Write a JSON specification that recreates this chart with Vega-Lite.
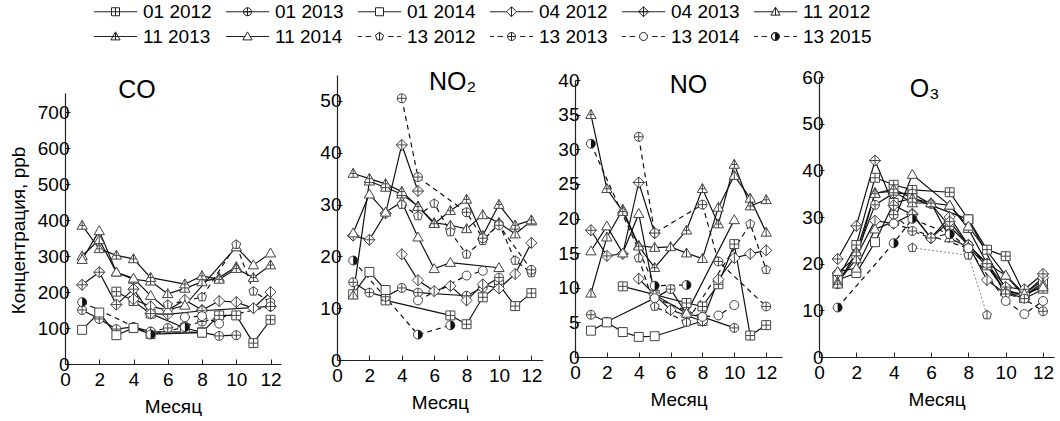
{
  "$schema": "https://vega.github.io/schema/vega-lite/v6.json",
  "padding": {"left": 9, "top": 2, "right": 0, "bottom": 0},
  "bounds": "flush",
  "spacing": 0,
  "datasets": {
    "CO": [
      {"series":"01 2012","month":3,"value":201},{"series":"01 2012","month":4,"value":175},{"series":"01 2012","month":5,"value":140},{"series":"01 2012","month":7,"value":100},{"series":"01 2012","month":8,"value":88},{"series":"01 2012","month":9,"value":135},{"series":"01 2012","month":10,"value":135},{"series":"01 2012","month":11,"value":58},{"series":"01 2012","month":12,"value":123},
      {"series":"01 2013","month":1,"value":150},{"series":"01 2013","month":2,"value":125},{"series":"01 2013","month":3,"value":97},{"series":"01 2013","month":4,"value":103},{"series":"01 2013","month":5,"value":90},{"series":"01 2013","month":8,"value":88},{"series":"01 2013","month":9,"value":78},{"series":"01 2013","month":10,"value":80},
      {"series":"01 2014","month":1,"value":95},{"series":"01 2014","month":2,"value":143},{"series":"01 2014","month":3,"value":80},{"series":"01 2014","month":4,"value":100},{"series":"01 2014","month":5,"value":83},{"series":"01 2014","month":8,"value":87},
      {"series":"04 2012","month":4,"value":180},{"series":"04 2012","month":5,"value":160},{"series":"04 2012","month":6,"value":150},{"series":"04 2012","month":7,"value":178},{"series":"04 2012","month":8,"value":150},{"series":"04 2012","month":9,"value":175},{"series":"04 2012","month":10,"value":172},{"series":"04 2012","month":11,"value":155},{"series":"04 2012","month":12,"value":200},
      {"series":"04 2013","month":1,"value":220},{"series":"04 2013","month":2,"value":255},{"series":"04 2013","month":3,"value":165},{"series":"04 2013","month":4,"value":208},{"series":"04 2013","month":5,"value":140},{"series":"04 2013","month":6,"value":138},{"series":"04 2013","month":8,"value":148},{"series":"04 2013","month":12,"value":160},
      {"series":"11 2012","month":1,"value":300},{"series":"11 2012","month":2,"value":345},{"series":"11 2012","month":3,"value":255},{"series":"11 2012","month":4,"value":235},{"series":"11 2012","month":5,"value":230},{"series":"11 2012","month":6,"value":195},{"series":"11 2012","month":7,"value":210},{"series":"11 2012","month":8,"value":228},{"series":"11 2012","month":9,"value":240},{"series":"11 2012","month":10,"value":270},
      {"series":"11 2013","month":1,"value":385},{"series":"11 2013","month":2,"value":320},{"series":"11 2013","month":3,"value":302},{"series":"11 2013","month":4,"value":292},{"series":"11 2013","month":5,"value":240},{"series":"11 2013","month":7,"value":222},{"series":"11 2013","month":8,"value":245},{"series":"11 2013","month":9,"value":235},{"series":"11 2013","month":10,"value":265},{"series":"11 2013","month":11,"value":240},{"series":"11 2013","month":12,"value":275},
      {"series":"11 2014","month":1,"value":290},{"series":"11 2014","month":2,"value":370},{"series":"11 2014","month":3,"value":255},{"series":"11 2014","month":4,"value":238},{"series":"11 2014","month":5,"value":190},{"series":"11 2014","month":6,"value":150},{"series":"11 2014","month":7,"value":163},{"series":"11 2014","month":10,"value":325},{"series":"11 2014","month":11,"value":275},{"series":"11 2014","month":12,"value":308},
      {"series":"13 2012","month":6,"value":165},{"series":"13 2012","month":8,"value":186},{"series":"13 2012","month":10,"value":332},{"series":"13 2012","month":11,"value":202},{"series":"13 2012","month":12,"value":172},
      {"series":"13 2013","month":5,"value":90},{"series":"13 2013","month":6,"value":100},{"series":"13 2013","month":7,"value":105},{"series":"13 2013","month":8,"value":118},{"series":"13 2013","month":12,"value":160},
      {"series":"13 2014","month":7,"value":130},{"series":"13 2014","month":8,"value":133},{"series":"13 2014","month":9,"value":112},
      {"series":"13 2015","month":1,"value":172},{"series":"13 2015","month":5,"value":82},{"series":"13 2015","month":7,"value":102}
    ],
    "NO2": [
      {"series":"01 2012","month":3,"value":11.5},{"series":"01 2012","month":7,"value":8.6},{"series":"01 2012","month":8,"value":6.9},{"series":"01 2012","month":9,"value":12.1},{"series":"01 2012","month":10,"value":14.6},{"series":"01 2012","month":11,"value":10.4},{"series":"01 2012","month":12,"value":12.9},
      {"series":"01 2013","month":1,"value":15},{"series":"01 2013","month":2,"value":13},{"series":"01 2013","month":3,"value":12.2},{"series":"01 2013","month":4,"value":13.9},{"series":"01 2013","month":5,"value":13},{"series":"01 2013","month":8,"value":12.4},{"series":"01 2013","month":9,"value":14},{"series":"01 2013","month":10,"value":15.9},
      {"series":"01 2014","month":1,"value":12.7},{"series":"01 2014","month":2,"value":17},{"series":"01 2014","month":3,"value":13.5},
      {"series":"04 2012","month":4,"value":20.4},{"series":"04 2012","month":5,"value":15.4},{"series":"04 2012","month":6,"value":13.3},{"series":"04 2012","month":7,"value":14.3},{"series":"04 2012","month":8,"value":11.5},{"series":"04 2012","month":9,"value":14.6},{"series":"04 2012","month":10,"value":13.8},{"series":"04 2012","month":11,"value":16.6},{"series":"04 2012","month":12,"value":22.6},
      {"series":"04 2013","month":1,"value":24},{"series":"04 2013","month":2,"value":23.2},{"series":"04 2013","month":3,"value":28.3},{"series":"04 2013","month":4,"value":41.5},{"series":"04 2013","month":5,"value":32.6},
      {"series":"11 2012","month":1,"value":12.5},{"series":"11 2012","month":2,"value":34.5},{"series":"11 2012","month":3,"value":33.3},{"series":"11 2012","month":4,"value":32},{"series":"11 2012","month":5,"value":29.7},{"series":"11 2012","month":6,"value":26.5},{"series":"11 2012","month":7,"value":26},{"series":"11 2012","month":8,"value":25.3},{"series":"11 2012","month":9,"value":28},{"series":"11 2012","month":10,"value":26.5},{"series":"11 2012","month":11,"value":24.3},{"series":"11 2012","month":12,"value":26.8},
      {"series":"11 2013","month":1,"value":36},{"series":"11 2013","month":2,"value":35},{"series":"11 2013","month":3,"value":34},{"series":"11 2013","month":4,"value":32.5},{"series":"11 2013","month":5,"value":29.6},{"series":"11 2013","month":6,"value":26.3},{"series":"11 2013","month":7,"value":28.8},{"series":"11 2013","month":8,"value":31},{"series":"11 2013","month":9,"value":24},{"series":"11 2013","month":10,"value":30},{"series":"11 2013","month":11,"value":26},{"series":"11 2013","month":12,"value":27},
      {"series":"11 2014","month":1,"value":24.5},{"series":"11 2014","month":2,"value":32},{"series":"11 2014","month":3,"value":28.5},{"series":"11 2014","month":4,"value":30.5},{"series":"11 2014","month":5,"value":23.7},{"series":"11 2014","month":6,"value":17.6},{"series":"11 2014","month":7,"value":18.8},{"series":"11 2014","month":10,"value":17.8},
      {"series":"13 2012","month":4,"value":30},{"series":"13 2012","month":5,"value":27.8},{"series":"13 2012","month":6,"value":30.2},{"series":"13 2012","month":7,"value":24.7},{"series":"13 2012","month":8,"value":20.4},{"series":"13 2012","month":9,"value":23},{"series":"13 2012","month":10,"value":26.3},{"series":"13 2012","month":11,"value":19.2},{"series":"13 2012","month":12,"value":16.8},
      {"series":"13 2013","month":4,"value":50.5},{"series":"13 2013","month":5,"value":35.3},{"series":"13 2013","month":8,"value":28.5},{"series":"13 2013","month":9,"value":23.5},{"series":"13 2013","month":10,"value":26},{"series":"13 2013","month":12,"value":17.4},
      {"series":"13 2014","month":5,"value":11.5},{"series":"13 2014","month":8,"value":16.3},{"series":"13 2014","month":9,"value":17.2},
      {"series":"13 2015","month":1,"value":19.2},{"series":"13 2015","month":5,"value":4.9},{"series":"13 2015","month":7,"value":6.7}
    ],
    "NO": [
      {"series":"01 2012","month":3,"value":10.2},{"series":"01 2012","month":5,"value":9},{"series":"01 2012","month":7,"value":7.8},{"series":"01 2012","month":8,"value":7.3},{"series":"01 2012","month":9,"value":10.5},{"series":"01 2012","month":10,"value":16.3},{"series":"01 2012","month":11,"value":3.1},{"series":"01 2012","month":12,"value":4.6},
      {"series":"01 2013","month":1,"value":6.1},{"series":"01 2013","month":2,"value":5.1},{"series":"01 2013","month":5,"value":8.5},{"series":"01 2013","month":6,"value":9.8},{"series":"01 2013","month":7,"value":6.2},{"series":"01 2013","month":8,"value":5.8},{"series":"01 2013","month":10,"value":4.2},
      {"series":"01 2014","month":1,"value":3.8},{"series":"01 2014","month":2,"value":5},{"series":"01 2014","month":3,"value":3.6},{"series":"01 2014","month":4,"value":2.9},{"series":"01 2014","month":5,"value":3},{"series":"01 2014","month":8,"value":5.2},
      {"series":"04 2012","month":4,"value":11.3},{"series":"04 2012","month":5,"value":9},{"series":"04 2012","month":6,"value":6.8},{"series":"04 2012","month":7,"value":6},{"series":"04 2012","month":8,"value":5.2},{"series":"04 2012","month":9,"value":11.2},{"series":"04 2012","month":10,"value":14.3},{"series":"04 2012","month":11,"value":14.9},{"series":"04 2012","month":12,"value":15.4},
      {"series":"04 2013","month":1,"value":18.3},{"series":"04 2013","month":2,"value":14.6},{"series":"04 2013","month":3,"value":14.9},{"series":"04 2013","month":4,"value":25.2},{"series":"04 2013","month":5,"value":17.9},
      {"series":"11 2012","month":1,"value":9.2},{"series":"11 2012","month":2,"value":17.3},{"series":"11 2012","month":3,"value":21.3},{"series":"11 2012","month":4,"value":16.1},{"series":"11 2012","month":5,"value":15.8},{"series":"11 2012","month":6,"value":15.9},{"series":"11 2012","month":7,"value":15},{"series":"11 2012","month":8,"value":14.2},{"series":"11 2012","month":9,"value":21.6},{"series":"11 2012","month":10,"value":26.2},{"series":"11 2012","month":11,"value":22.9},{"series":"11 2012","month":12,"value":18},
      {"series":"11 2013","month":1,"value":35},{"series":"11 2013","month":2,"value":24.3},{"series":"11 2013","month":3,"value":21},{"series":"11 2013","month":4,"value":16},{"series":"11 2013","month":5,"value":12.9},{"series":"11 2013","month":7,"value":18.3},{"series":"11 2013","month":8,"value":24.3},{"series":"11 2013","month":9,"value":19.2},{"series":"11 2013","month":10,"value":27.8},{"series":"11 2013","month":11,"value":21.8},{"series":"11 2013","month":12,"value":22.7},
      {"series":"11 2014","month":1,"value":15.3},{"series":"11 2014","month":2,"value":18.9},{"series":"11 2014","month":3,"value":15},{"series":"11 2014","month":4,"value":20.7},{"series":"11 2014","month":5,"value":9},{"series":"11 2014","month":7,"value":6.3},{"series":"11 2014","month":10,"value":19.8},
      {"series":"13 2012","month":4,"value":14.3},{"series":"13 2012","month":5,"value":7.3},{"series":"13 2012","month":7,"value":5},{"series":"13 2012","month":11,"value":19.2},{"series":"13 2012","month":12,"value":12.6},
      {"series":"13 2013","month":4,"value":31.8},{"series":"13 2013","month":5,"value":17.9},{"series":"13 2013","month":8,"value":22},{"series":"13 2013","month":9,"value":13.8},{"series":"13 2013","month":12,"value":7.3},
      {"series":"13 2014","month":5,"value":8.5},{"series":"13 2014","month":8,"value":5.8},{"series":"13 2014","month":9,"value":6},{"series":"13 2014","month":10,"value":7.5},
      {"series":"13 2015","month":1,"value":30.8},{"series":"13 2015","month":5,"value":10.3},{"series":"13 2015","month":7,"value":10.4}
    ],
    "O3": [
      {"series":"01 2012","month":1,"value":16.8},{"series":"01 2012","month":2,"value":24},{"series":"01 2012","month":3,"value":38.4},{"series":"01 2012","month":4,"value":36.9},{"series":"01 2012","month":5,"value":35.8},{"series":"01 2012","month":7,"value":35.3},{"series":"01 2012","month":8,"value":29.5},{"series":"01 2012","month":9,"value":23},{"series":"01 2012","month":10,"value":21.6},{"series":"01 2012","month":11,"value":13.5},{"series":"01 2012","month":12,"value":16.5},
      {"series":"01 2013","month":1,"value":15.6},{"series":"01 2013","month":2,"value":22},{"series":"01 2013","month":3,"value":32.6},{"series":"01 2013","month":4,"value":35.1},{"series":"01 2013","month":5,"value":35},{"series":"01 2013","month":6,"value":32.8},{"series":"01 2013","month":7,"value":28},{"series":"01 2013","month":8,"value":24},{"series":"01 2013","month":9,"value":20},{"series":"01 2013","month":10,"value":14},{"series":"01 2013","month":11,"value":13.5},{"series":"01 2013","month":12,"value":15},
      {"series":"01 2014","month":1,"value":16.5},{"series":"01 2014","month":2,"value":18},{"series":"01 2014","month":3,"value":24.6},{"series":"01 2014","month":4,"value":33},{"series":"01 2014","month":5,"value":34},{"series":"01 2014","month":8,"value":29.5},{"series":"01 2014","month":10,"value":14.5},{"series":"01 2014","month":11,"value":13},{"series":"01 2014","month":12,"value":16},
      {"series":"04 2012","month":1,"value":18},{"series":"04 2012","month":2,"value":21.5},{"series":"04 2012","month":3,"value":29.2},{"series":"04 2012","month":4,"value":28.6},{"series":"04 2012","month":5,"value":30.7},{"series":"04 2012","month":6,"value":25.5},{"series":"04 2012","month":7,"value":30},{"series":"04 2012","month":8,"value":24},{"series":"04 2012","month":9,"value":16.5},{"series":"04 2012","month":10,"value":13.5},{"series":"04 2012","month":11,"value":13.5},{"series":"04 2012","month":12,"value":17},
      {"series":"04 2013","month":1,"value":21},{"series":"04 2013","month":2,"value":28.1},{"series":"04 2013","month":3,"value":42.1},{"series":"04 2013","month":4,"value":32.5},{"series":"04 2013","month":5,"value":30.5},{"series":"04 2013","month":6,"value":25.5},{"series":"04 2013","month":7,"value":29},{"series":"04 2013","month":8,"value":24},{"series":"04 2013","month":9,"value":20},{"series":"04 2013","month":10,"value":15},{"series":"04 2013","month":11,"value":14.5},{"series":"04 2013","month":12,"value":17.8},
      {"series":"11 2012","month":1,"value":16},{"series":"11 2012","month":2,"value":21},{"series":"11 2012","month":3,"value":35.2},{"series":"11 2012","month":4,"value":35.5},{"series":"11 2012","month":5,"value":33},{"series":"11 2012","month":6,"value":33},{"series":"11 2012","month":7,"value":32.5},{"series":"11 2012","month":8,"value":27.5},{"series":"11 2012","month":9,"value":20},{"series":"11 2012","month":10,"value":17.5},{"series":"11 2012","month":11,"value":13},{"series":"11 2012","month":12,"value":15.5},
      {"series":"11 2013","month":1,"value":15.6},{"series":"11 2013","month":2,"value":22.5},{"series":"11 2013","month":3,"value":35},{"series":"11 2013","month":4,"value":36},{"series":"11 2013","month":5,"value":34},{"series":"11 2013","month":6,"value":33},{"series":"11 2013","month":7,"value":25.5},{"series":"11 2013","month":8,"value":23.5},{"series":"11 2013","month":9,"value":19.5},{"series":"11 2013","month":10,"value":14},{"series":"11 2013","month":11,"value":12.5},{"series":"11 2013","month":12,"value":14.5},
      {"series":"11 2014","month":1,"value":18.3},{"series":"11 2014","month":2,"value":19},{"series":"11 2014","month":3,"value":27.4},{"series":"11 2014","month":4,"value":29},{"series":"11 2014","month":5,"value":39.1},{"series":"11 2014","month":7,"value":32.5},{"series":"11 2014","month":8,"value":28},{"series":"11 2014","month":10,"value":17.5},{"series":"11 2014","month":11,"value":13.5},{"series":"11 2014","month":12,"value":15},
      {"series":"13 2012","month":5,"value":23.4},{"series":"13 2012","month":8,"value":21.8},{"series":"13 2012","month":9,"value":9},
      {"series":"13 2013","month":4,"value":30.5},{"series":"13 2013","month":5,"value":27},{"series":"13 2013","month":6,"value":25.5},{"series":"13 2013","month":7,"value":26.5},{"series":"13 2013","month":8,"value":23.3},{"series":"13 2013","month":9,"value":20},{"series":"13 2013","month":10,"value":13.5},{"series":"13 2013","month":11,"value":12.5},{"series":"13 2013","month":12,"value":9.8},
      {"series":"13 2014","month":4,"value":28.6},{"series":"13 2014","month":8,"value":23.3},{"series":"13 2014","month":10,"value":12},{"series":"13 2014","month":11,"value":9.2},{"series":"13 2014","month":12,"value":12},
      {"series":"13 2015","month":1,"value":10.6},{"series":"13 2015","month":4,"value":24.4},{"series":"13 2015","month":5,"value":29.6},{"series":"13 2015","month":7,"value":26.3}
    ]
  },
  "hconcat": [
    {
      "width": 271.3, "height": 289,
      "data": {"name": "CO"},
      "layer": [
        {"transform": [{"filter": "false"}],
         "mark": {"type": "point", "filled": true, "stroke": "#222", "strokeWidth": 1, "opacity": 1},
         "encoding": {
           "x": {"field": "month", "type": "quantitative"},
           "y": {"field": "value", "type": "quantitative"},
           "shape": {"field": "series", "type": "nominal",
             "scale": {"domain": ["01 2012","01 2013","01 2014","04 2012","04 2013","11 2012","11 2013","11 2014","13 2012","13 2013","13 2014","13 2015"],
               "range": ["M-5.4,0H-1M1,0H5.4M-1,-1H1V1H-1ZM0,-1V1M-1,0H1", "M-5.4,0H5.4M1,0A1,1,0,1,1,-1,0A1,1,0,1,1,1,0ZM0,-1V1M-1,0H1", "M-5.4,0H-1M1,0H5.4M-1,-1H1V1H-1Z", "M-5.4,0H-1.25M1.25,0H5.4M0,-1.25L1.25,0L0,1.25L-1.25,0ZM0,-1.25V1.25", "M-5.4,0H5.4M0,-1.25L1.25,0L0,1.25L-1.25,0ZM0,-1.25V1.25M-1.25,0H1.25", "M-5.4,0H-0.6M0.6,0H5.4M0,-1.15L1.15,0.85H-1.15ZM0,-1.15V0.85", "M-5.4,0H5.4M0,-1.15L1.15,0.85H-1.15ZM0,-1.15V0.85", "M-5.4,0H-0.6M0.6,0H5.4M0,-1.15L1.15,0.85H-1.15Z", "M-5.4,0H-4.4M-3.5,0H-2.1M2.1,0H3.5M4.4,0H5.4M0,-1.05L1,-0.32L0.62,0.85L-0.62,0.85L-1,-0.32ZM0,-1.05V0.85", "M-5.4,0H-4.4M-3.5,0H-2.1M2.1,0H3.5M4.4,0H5.4M1,0A1,1,0,1,1,-1,0A1,1,0,1,1,1,0ZM-1,0H1M0,-1V1", "M-5.4,0H-4.4M-3.5,0H-2.1M2.1,0H3.5M4.4,0H5.4M1,0A1,1,0,1,1,-1,0A1,1,0,1,1,1,0Z", "M-5.4,0H-4.4M-3.5,0H-2.1M2.1,0H3.5M4.4,0H5.4M0,-1A1,1,0,1,1,0,1A1,1,0,1,1,0,-1ZM0,-1A1,1,0,0,0,0,1Z"]},
             "legend": {"orient": "none", "legendX": 24, "legendY": -73, "direction": "horizontal", "columns": 6, "title": null,
               "symbolSize": 64, "symbolOffset": 17, "labelOffset": 18, "labelFontSize": 19, "labelFont": "Liberation Sans", "labelColor": "#000",
               "columnPadding": 9, "rowPadding": 5, "padding": 0, "symbolStrokeWidth": 1, "symbolStrokeColor": "#222", "symbolOpacity": 1}},
           "fill": {"field": "series", "type": "nominal",
             "scale": {"domain": ["01 2012","01 2013","01 2014","04 2012","04 2013","11 2012","11 2013","11 2014","13 2012","13 2013","13 2014","13 2015"],
               "range": ["#fff","#fff","#fff","#fff","#fff","#fff","#fff","#fff","#fff","#fff","#fff","#111"]},
             "legend": {"orient": "none", "legendX": 24, "legendY": -73, "direction": "horizontal", "columns": 6, "title": null,
               "symbolSize": 64, "symbolOffset": 17, "labelOffset": 18, "labelFontSize": 19, "labelFont": "Liberation Sans", "labelColor": "#000",
               "columnPadding": 9, "rowPadding": 5, "padding": 0, "symbolStrokeWidth": 1, "symbolStrokeColor": "#222", "symbolOpacity": 1}},
           "stroke": {"field": "series", "type": "nominal",
             "scale": {"domain": ["01 2012","01 2013","01 2014","04 2012","04 2013","11 2012","11 2013","11 2014","13 2012","13 2013","13 2014","13 2015"],
               "range": ["#222","#222","#222","#222","#222","#222","#222","#222","#222","#222","#222","#222"]},
             "legend": {"orient": "none", "legendX": 24, "legendY": -73, "direction": "horizontal", "columns": 6, "title": null,
               "symbolSize": 64, "symbolOffset": 17, "labelOffset": 18, "labelFontSize": 19, "labelFont": "Liberation Sans", "labelColor": "#000",
               "columnPadding": 9, "rowPadding": 5, "padding": 0, "symbolStrokeWidth": 1, "symbolStrokeColor": "#222", "symbolOpacity": 1}}
         }},
        {"transform": [{"filter": "indexof(datum.series, '13') !== 0"}],
         "mark": {"type": "line", "color": "#111", "strokeWidth": 1.2},
         "encoding": {
           "x": {"field": "month", "type": "quantitative", "scale": {"domain": [0, 12.6], "range": [0, 215.8], "nice": false, "zero": false}, "axis": {"values": [0,2,4,6,8,10,12], "tickCount": 20, "format": "d", "title": "Месяц", "labelOverlap": false}},
           "y": {"field": "value", "type": "quantitative", "scale": {"domain": [0, 753], "range": [289, 18], "nice": false}, "axis": {"values": [0,100,200,300,400,500,600,700], "tickCount": 20, "format": "d", "title": "Концентрация, ppb", "titleY": 155, "labelOverlap": false}},
           "detail": {"field": "series"}
         }},
        {"transform": [{"filter": "indexof(datum.series, '13') === 0"}],
         "mark": {"type": "line", "color": "#111", "strokeWidth": 1.2, "strokeDash": [5, 4]},
         "encoding": {"x": {"field": "month", "type": "quantitative"}, "y": {"field": "value", "type": "quantitative"}, "detail": {"field": "series"}}},
        {"mark": {"type": "point", "filled": true, "fill": "white", "stroke": "#444", "strokeWidth": 1, "size": 80, "opacity": 1,
           "shape": {"expr": "['M-1,-1H1V1H-1ZM0,-1V1M-1,0H1', 'M1,0A1,1,0,1,1,-1,0A1,1,0,1,1,1,0ZM-1,0H1M0,-1V1', 'M-1,-1H1V1H-1Z', 'M0,-1.25L1.25,0L0,1.25L-1.25,0ZM0,-1.25V1.25', 'M0,-1.25L1.25,0L0,1.25L-1.25,0ZM0,-1.25V1.25M-1.25,0H1.25', 'M0,-1.15L1.15,0.85H-1.15ZM0,-1.15V0.85', 'M0,-1.15L1.15,0.85H-1.15ZM0,-1.15V0.85M-0.6,0H0.6', 'M0,-1.15L1.15,0.85H-1.15Z', 'M0,-1.05L1,-0.32L0.62,0.85L-0.62,0.85L-1,-0.32ZM0,-1.05V0.85', 'M1,0A1,1,0,1,1,-1,0A1,1,0,1,1,1,0ZM-1,0H1M0,-1V1', 'M1,0A1,1,0,1,1,-1,0A1,1,0,1,1,1,0Z', 'M1,0A1,1,0,1,1,-1,0A1,1,0,1,1,1,0Z'][indexof(['01 2012','01 2013','01 2014','04 2012','04 2013','11 2012','11 2013','11 2014','13 2012','13 2013','13 2014','13 2015'], datum.series)]"}},
         "encoding": {"x": {"field": "month", "type": "quantitative"}, "y": {"field": "value", "type": "quantitative"}}},
        {"transform": [{"filter": "datum.series === '13 2015'"}],
         "mark": {"type": "point", "filled": true, "fill": "#111", "strokeWidth": 0, "size": 80, "opacity": 1, "shape": "M0,-1A1,1,0,0,1,0,1Z"},
         "encoding": {"x": {"field": "month", "type": "quantitative"}, "y": {"field": "value", "type": "quantitative"}}},
        {"data": {"values": [{"label": "CO"}]},
         "mark": {"type": "text", "align": "left", "baseline": "alphabetic", "fontSize": 25, "font": "Liberation Sans", "color": "#000"},
         "encoding": {"x": {"datum": 3.11}, "y": {"datum": 739}, "text": {"field": "label"}}}
      ]
    },
    {
      "width": 237.3, "height": 289,
      "data": {"name": "NO2"},
      "layer": [
        {"transform": [{"filter": "indexof(datum.series, '13') !== 0"}],
         "mark": {"type": "line", "color": "#111", "strokeWidth": 1.2},
         "encoding": {
           "x": {"field": "month", "type": "quantitative", "scale": {"domain": [0, 12.7], "range": [0, 205.7], "nice": false, "zero": false}, "axis": {"values": [0,2,4,6,8,10,12], "tickCount": 20, "format": "d", "title": "Месяц", "offset": -4, "labelOverlap": false}},
           "y": {"field": "value", "type": "quantitative", "scale": {"domain": [0, 55], "range": [285, 0], "nice": false}, "axis": {"values": [0,10,20,30,40,50], "tickCount": 20, "format": "d", "title": null, "labelOverlap": false}},
           "detail": {"field": "series"}
         }},
        {"transform": [{"filter": "indexof(datum.series, '13') === 0"}],
         "mark": {"type": "line", "color": "#111", "strokeWidth": 1.2, "strokeDash": [5, 4]},
         "encoding": {"x": {"field": "month", "type": "quantitative"}, "y": {"field": "value", "type": "quantitative"}, "detail": {"field": "series"}}},
        {"mark": {"type": "point", "filled": true, "fill": "white", "stroke": "#444", "strokeWidth": 1, "size": 80, "opacity": 1,
           "shape": {"expr": "['M-1,-1H1V1H-1ZM0,-1V1M-1,0H1', 'M1,0A1,1,0,1,1,-1,0A1,1,0,1,1,1,0ZM-1,0H1M0,-1V1', 'M-1,-1H1V1H-1Z', 'M0,-1.25L1.25,0L0,1.25L-1.25,0ZM0,-1.25V1.25', 'M0,-1.25L1.25,0L0,1.25L-1.25,0ZM0,-1.25V1.25M-1.25,0H1.25', 'M0,-1.15L1.15,0.85H-1.15ZM0,-1.15V0.85', 'M0,-1.15L1.15,0.85H-1.15ZM0,-1.15V0.85M-0.6,0H0.6', 'M0,-1.15L1.15,0.85H-1.15Z', 'M0,-1.05L1,-0.32L0.62,0.85L-0.62,0.85L-1,-0.32ZM0,-1.05V0.85', 'M1,0A1,1,0,1,1,-1,0A1,1,0,1,1,1,0ZM-1,0H1M0,-1V1', 'M1,0A1,1,0,1,1,-1,0A1,1,0,1,1,1,0Z', 'M1,0A1,1,0,1,1,-1,0A1,1,0,1,1,1,0Z'][indexof(['01 2012','01 2013','01 2014','04 2012','04 2013','11 2012','11 2013','11 2014','13 2012','13 2013','13 2014','13 2015'], datum.series)]"}},
         "encoding": {"x": {"field": "month", "type": "quantitative"}, "y": {"field": "value", "type": "quantitative"}}},
        {"transform": [{"filter": "datum.series === '13 2015'"}],
         "mark": {"type": "point", "filled": true, "fill": "#111", "strokeWidth": 0, "size": 80, "opacity": 1, "shape": "M0,-1A1,1,0,0,1,0,1Z"},
         "encoding": {"x": {"field": "month", "type": "quantitative"}, "y": {"field": "value", "type": "quantitative"}}},
        {"data": {"values": [{"label": "NO₂"}]},
         "mark": {"type": "text", "align": "left", "baseline": "alphabetic", "fontSize": 25, "font": "Liberation Sans", "color": "#000"},
         "encoding": {"x": {"datum": 5.68}, "y": {"datum": 52.1}, "text": {"field": "label"}}}
      ]
    },
    {
      "width": 244, "height": 289,
      "data": {"name": "NO"},
      "layer": [
        {"transform": [{"filter": "indexof(datum.series, '13') !== 0"}],
         "mark": {"type": "line", "color": "#111", "strokeWidth": 1.2},
         "encoding": {
           "x": {"field": "month", "type": "quantitative", "scale": {"domain": [0, 13], "range": [0, 207.1], "nice": false, "zero": false}, "axis": {"values": [0,2,4,6,8,10,12], "tickCount": 20, "format": "d", "title": "Месяц", "offset": -7, "labelOverlap": false}},
           "y": {"field": "value", "type": "quantitative", "scale": {"domain": [0, 40], "range": [282, 5], "nice": false}, "axis": {"values": [0,5,10,15,20,25,30,35,40], "tickCount": 20, "format": "d", "title": null, "labelOverlap": false}},
           "detail": {"field": "series"}
         }},
        {"transform": [{"filter": "indexof(datum.series, '13') === 0"}],
         "mark": {"type": "line", "color": "#111", "strokeWidth": 1.2, "strokeDash": [5, 4]},
         "encoding": {"x": {"field": "month", "type": "quantitative"}, "y": {"field": "value", "type": "quantitative"}, "detail": {"field": "series"}}},
        {"mark": {"type": "point", "filled": true, "fill": "white", "stroke": "#444", "strokeWidth": 1, "size": 80, "opacity": 1,
           "shape": {"expr": "['M-1,-1H1V1H-1ZM0,-1V1M-1,0H1', 'M1,0A1,1,0,1,1,-1,0A1,1,0,1,1,1,0ZM-1,0H1M0,-1V1', 'M-1,-1H1V1H-1Z', 'M0,-1.25L1.25,0L0,1.25L-1.25,0ZM0,-1.25V1.25', 'M0,-1.25L1.25,0L0,1.25L-1.25,0ZM0,-1.25V1.25M-1.25,0H1.25', 'M0,-1.15L1.15,0.85H-1.15ZM0,-1.15V0.85', 'M0,-1.15L1.15,0.85H-1.15ZM0,-1.15V0.85M-0.6,0H0.6', 'M0,-1.15L1.15,0.85H-1.15Z', 'M0,-1.05L1,-0.32L0.62,0.85L-0.62,0.85L-1,-0.32ZM0,-1.05V0.85', 'M1,0A1,1,0,1,1,-1,0A1,1,0,1,1,1,0ZM-1,0H1M0,-1V1', 'M1,0A1,1,0,1,1,-1,0A1,1,0,1,1,1,0Z', 'M1,0A1,1,0,1,1,-1,0A1,1,0,1,1,1,0Z'][indexof(['01 2012','01 2013','01 2014','04 2012','04 2013','11 2012','11 2013','11 2014','13 2012','13 2013','13 2014','13 2015'], datum.series)]"}},
         "encoding": {"x": {"field": "month", "type": "quantitative"}, "y": {"field": "value", "type": "quantitative"}}},
        {"transform": [{"filter": "datum.series === '13 2015'"}],
         "mark": {"type": "point", "filled": true, "fill": "#111", "strokeWidth": 0, "size": 80, "opacity": 1, "shape": "M0,-1A1,1,0,0,1,0,1Z"},
         "encoding": {"x": {"field": "month", "type": "quantitative"}, "y": {"field": "value", "type": "quantitative"}}},
        {"data": {"values": [{"label": "NO"}]},
         "mark": {"type": "text", "align": "left", "baseline": "alphabetic", "fontSize": 25, "font": "Liberation Sans", "color": "#000"},
         "encoding": {"x": {"datum": 5.94}, "y": {"datum": 38.1}, "text": {"field": "label"}}}
      ]
    },
    {
      "width": 235.7, "height": 289,
      "data": {"name": "O3"},
      "layer": [
        {"transform": [{"filter": "indexof(datum.series, '13') !== 0"}],
         "mark": {"type": "line", "color": "#111", "strokeWidth": 1.2},
         "encoding": {
           "x": {"field": "month", "type": "quantitative", "scale": {"domain": [0, 12.6], "range": [0, 235.2], "nice": false, "zero": false}, "axis": {"values": [0,2,4,6,8,10,12], "tickCount": 20, "format": "d", "title": "Месяц", "offset": -7, "labelOverlap": false}},
           "y": {"field": "value", "type": "quantitative", "scale": {"domain": [0, 60], "range": [282, 2], "nice": false}, "axis": {"values": [0,10,20,30,40,50,60], "tickCount": 20, "format": "d", "title": null, "labelOverlap": false}},
           "detail": {"field": "series"}
         }},
        {"transform": [{"filter": "indexof(datum.series, '13') === 0 && datum.series !== '13 2012'"}],
         "mark": {"type": "line", "color": "#111", "strokeWidth": 1.2, "strokeDash": [5, 4]},
         "encoding": {"x": {"field": "month", "type": "quantitative"}, "y": {"field": "value", "type": "quantitative"}, "detail": {"field": "series"}}},
        {"transform": [{"filter": "datum.series === '13 2012'"}],
         "mark": {"type": "line", "color": "#888", "strokeWidth": 1, "strokeDash": [2, 2]},
         "encoding": {"x": {"field": "month", "type": "quantitative"}, "y": {"field": "value", "type": "quantitative"}}},
        {"mark": {"type": "point", "filled": true, "fill": "white", "stroke": "#444", "strokeWidth": 1, "size": 80, "opacity": 1,
           "shape": {"expr": "['M-1,-1H1V1H-1ZM0,-1V1M-1,0H1', 'M1,0A1,1,0,1,1,-1,0A1,1,0,1,1,1,0ZM-1,0H1M0,-1V1', 'M-1,-1H1V1H-1Z', 'M0,-1.25L1.25,0L0,1.25L-1.25,0ZM0,-1.25V1.25', 'M0,-1.25L1.25,0L0,1.25L-1.25,0ZM0,-1.25V1.25M-1.25,0H1.25', 'M0,-1.15L1.15,0.85H-1.15ZM0,-1.15V0.85', 'M0,-1.15L1.15,0.85H-1.15ZM0,-1.15V0.85M-0.6,0H0.6', 'M0,-1.15L1.15,0.85H-1.15Z', 'M0,-1.05L1,-0.32L0.62,0.85L-0.62,0.85L-1,-0.32ZM0,-1.05V0.85', 'M1,0A1,1,0,1,1,-1,0A1,1,0,1,1,1,0ZM-1,0H1M0,-1V1', 'M1,0A1,1,0,1,1,-1,0A1,1,0,1,1,1,0Z', 'M1,0A1,1,0,1,1,-1,0A1,1,0,1,1,1,0Z'][indexof(['01 2012','01 2013','01 2014','04 2012','04 2013','11 2012','11 2013','11 2014','13 2012','13 2013','13 2014','13 2015'], datum.series)]"}},
         "encoding": {"x": {"field": "month", "type": "quantitative"}, "y": {"field": "value", "type": "quantitative"}}},
        {"transform": [{"filter": "datum.series === '13 2015'"}],
         "mark": {"type": "point", "filled": true, "fill": "#111", "strokeWidth": 0, "size": 80, "opacity": 1, "shape": "M0,-1A1,1,0,0,1,0,1Z"},
         "encoding": {"x": {"field": "month", "type": "quantitative"}, "y": {"field": "value", "type": "quantitative"}}},
        {"data": {"values": [{"label": "O₃"}]},
         "mark": {"type": "text", "align": "left", "baseline": "alphabetic", "fontSize": 25, "font": "Liberation Sans", "color": "#000"},
         "encoding": {"x": {"datum": 4.86}, "y": {"datum": 55.7}, "text": {"field": "label"}}}
      ]
    }
  ],
  "resolve": {"scale": {"x": "independent", "y": "independent"}},
  "config": {
    "view": {"stroke": null},
    "font": "Liberation Sans",
    "axis": {"grid": false, "domainColor": "#222", "tickColor": "#222", "domainWidth": 1.2, "tickWidth": 1, "tickSize": -5,
      "labelFont": "Liberation Sans", "labelFontSize": 19, "labelColor": "#000", "titleFont": "Liberation Sans", "titleFontSize": 19, "titleFontWeight": "normal", "titleColor": "#000", "labelFlush": false, "labelOverlap": false},
    "axisX": {"titlePadding": 8, "labelPadding": 11},
    "axisY": {"titlePadding": 9, "labelPadding": 1}
  }
}
